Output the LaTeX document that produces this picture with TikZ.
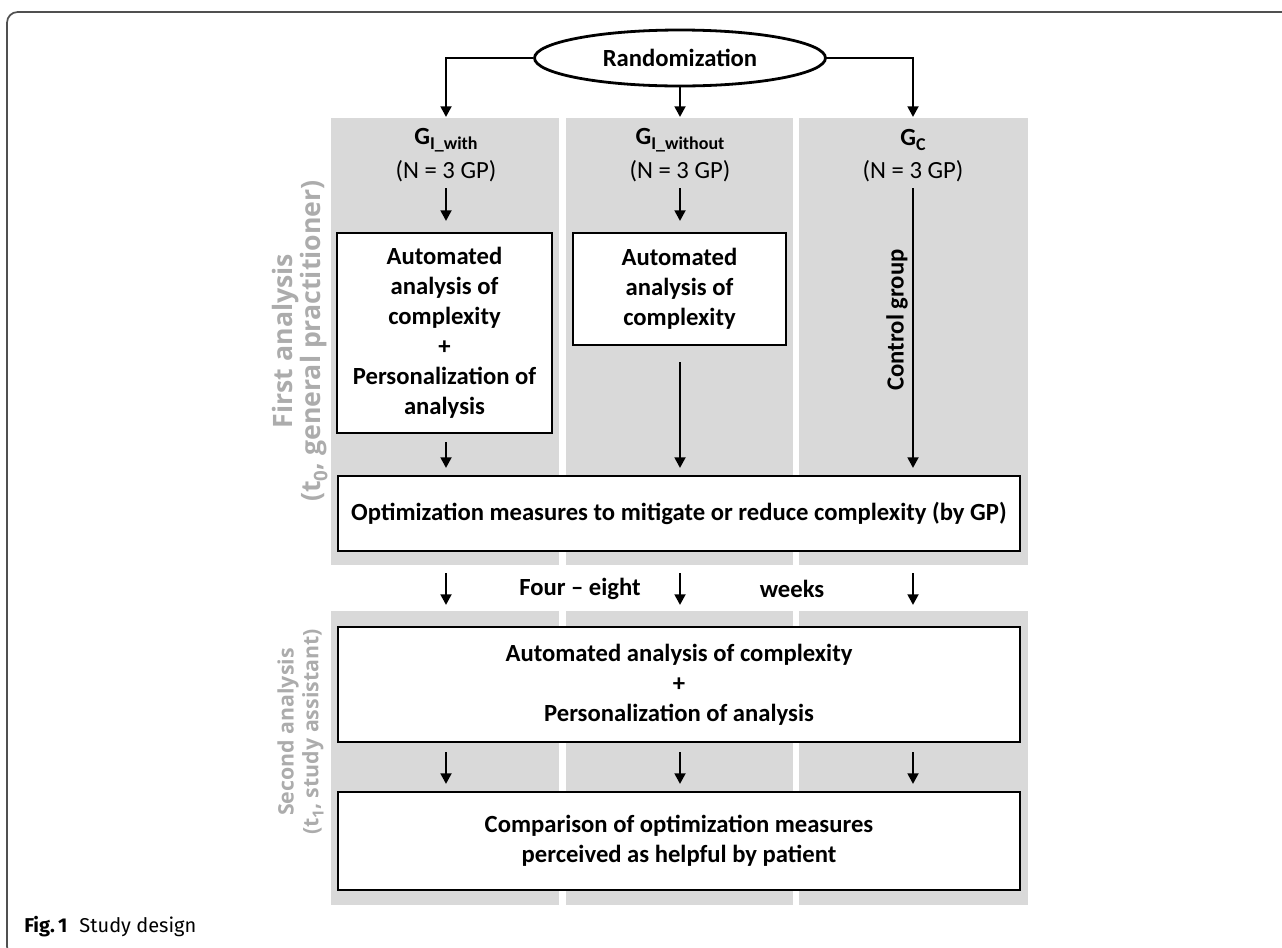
\documentclass[tikz,border=0pt]{standalone}
\usepackage{fontspec}
\setmainfont{Carlito}
\newfontfamily\sidefont{Open Sans}
\newfontfamily\capfont{Fira Sans}
\usetikzlibrary{arrows.meta,shapes.geometric}
\definecolor{colgray}{RGB}{217,217,217}
\definecolor{sidegray}{RGB}{172,172,172}
\definecolor{framegray}{RGB}{80,80,80}
\tikzset{
  boxnode/.style={draw, line width=2.1pt, fill=white, align=center, inner sep=0pt,
    font=\fontsize{18.5}{22.5}\selectfont\bfseries},
  arr/.style={line width=2.1pt, -{Triangle[length=8pt,width=8pt]}},
  grp/.style={font=\fontsize{18.5}{22.5}\selectfont\bfseries, inner sep=0pt},
  cnt/.style={font=\fontsize{18.5}{22.5}\selectfont, inner sep=0pt},
  sidelab/.style={text=sidegray, rotate=90, inner sep=0pt},
  sidebig/.style={sidelab, font=\sidefont\bfseries\fontsize{20}{22}\selectfont},
  sidesmall/.style={sidelab, font=\sidefont\bfseries\fontsize{16}{19}\selectfont},
  midlab/.style={font=\fontsize{18.5}{22.5}\selectfont\bfseries, inner sep=0pt},
}
\newcommand{\grpsub}[1]{\raisebox{-0.45ex}{\fontsize{13.5}{13.5}\selectfont\bfseries #1}}
\newcommand{\sidesub}[2]{\raisebox{-0.45ex}{\fontsize{#1}{#1}\selectfont #2}}
\begin{document}
\begin{tikzpicture}[x=0.75pt,y=-0.75pt]
\useasboundingbox (0,0) rectangle (1282,947);
% frame
\draw[framegray, line width=1.3pt, rounded corners=8pt] (1300,12) -- (7,12) -- (7,957) -- (1300,957);
% gray columns
\fill[colgray] (331,118) rectangle (559,565);
\fill[colgray] (566,118) rectangle (793,565);
\fill[colgray] (799,118) rectangle (1028,565);
\fill[colgray] (331,611) rectangle (559,905);
\fill[colgray] (566,611) rectangle (793,905);
\fill[colgray] (799,611) rectangle (1028,905);
% randomization
\node[ellipse, draw, line width=2.1pt, fill=white, minimum width={291*0.75pt}, minimum height={56*0.75pt}, inner sep=0pt,
  font=\fontsize{18.5}{22.5}\selectfont\bfseries] (rand) at (680,58) {Randomization};
\coordinate (c1top) at (446,117);
\coordinate (c2top) at (680,117);
\coordinate (c3top) at (913,117);
\draw[arr] (rand.west) -| (c1top);
\draw[arr] (rand.south) -- (c2top);
\draw[arr] (rand.east) -| (c3top);
% group labels
\node[grp] (g1) at (446,140) {G\grpsub{I\_with}};
\node[grp] (g2) at (680,140) {G\grpsub{I\_without}};
\node[grp] (g3) at (913,140) {G\grpsub{C}};
\node[cnt] (n1) at (446,171) {(N = 3 GP)};
\node[cnt] (n2) at (680,171) {(N = 3 GP)};
\node[cnt] (n3) at (913,171) {(N = 3 GP)};
% boxes
\node[boxnode, minimum width={215*0.75pt}, minimum height={200*0.75pt}] (b1) at (444.5,333)
  {Automated\\analysis of\\complexity\\+\\Personalization of\\analysis};
\node[boxnode, minimum width={213*0.75pt}, minimum height={112*0.75pt}] (b2) at (679.5,289)
  {Automated\\analysis of\\complexity};
\node[boxnode, minimum width={682*0.75pt}, minimum height={75*0.75pt}] (opt) at (679,513.5)
  {Optimization measures to mitigate or reduce complexity (by GP)};
\node[boxnode, minimum width={682*0.75pt}, minimum height={115*0.75pt}] (b3) at (679,684.5)
  {Automated analysis of complexity\\+\\Personalization of analysis};
\node[boxnode, minimum width={682*0.75pt}, minimum height={98*0.75pt}] (b4) at (679,841)
  {Comparison of optimization measures\\perceived as helpful by patient};
% arrows in first section
\coordinate (a1s) at (446,188); \coordinate (a1e) at (446,221);
\coordinate (a2s) at (680,188); \coordinate (a2e) at (680,221);
\draw[arr] (a1s) -- (a1e);
\draw[arr] (a2s) -- (a2e);
\coordinate (a3s) at (913,188); \coordinate (a3e) at (913,468);
\draw[arr] (a3s) -- (a3e);
\node[midlab, rotate=90] (ctrl) at (897,320) {Control group};
\coordinate (a4s) at (680,362); \coordinate (a4e) at (680,468);
\draw[arr] (a4s) -- (a4e);
\coordinate (a5s) at (446,442); \coordinate (a5e) at (446,468);
\draw[arr] (a5s) -- (a5e);
% between sections
\foreach \x/\n in {446/m1,680/m2,913/m3}{
  \coordinate (\n s) at (\x,573); \coordinate (\n e) at (\x,605);
  \draw[arr] (\n s) -- (\n e);
}
\node[midlab] (four) at (580,589) {Four -- eight};
\node[midlab] (weeks) at (792,589) {weeks};
% lower arrows
\foreach \x/\n in {446/l1,680/l2,913/l3}{
  \coordinate (\n s) at (\x,752); \coordinate (\n e) at (\x,784);
  \draw[arr] (\n s) -- (\n e);
}
% side labels
\node[sidebig] (s1a) at (286,341) {First analysis};
\node[sidebig] (s1b) at (314,341) {(t\sidesub{14}{0}, general practitioner)};
\node[sidesmall] (s2a) at (288,732) {Second analysis};
\node[sidesmall] (s2b) at (313,732) {(t\sidesub{11.5}{1}, study assistant)};
% caption
\node[anchor=west, inner sep=0pt, font=\capfont\fontsize{15}{18}\selectfont] (cap) at (24,927)
  {\textbf{Fig.\,1}\hspace{0.6em}Study design};
\end{tikzpicture}
\end{document}
